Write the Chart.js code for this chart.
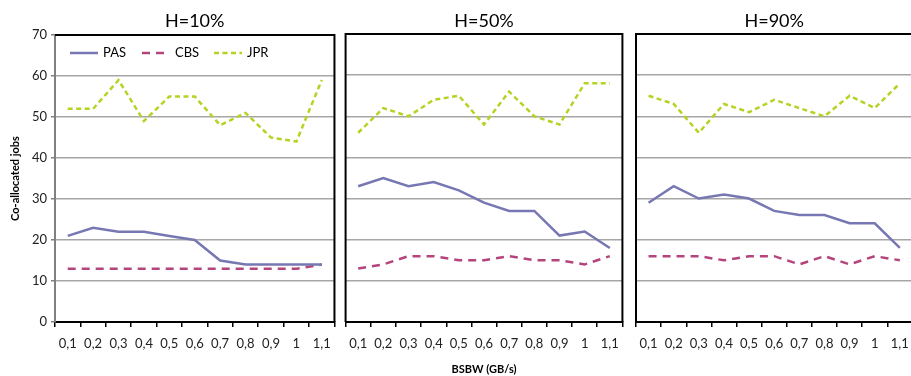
<!DOCTYPE html>
<html>
<head>
<meta charset="utf-8">
<script src="https://cdn.jsdelivr.net/npm/chart.js@4/dist/chart.umd.min.js"></script>
<style>
  body { margin: 0; background: #fff; overflow: hidden; width: 911px; height: 376px; position: relative; }
  canvas { position: absolute; top: 0; }
</style>
</head>
<body>
<canvas id="c10" width="340" height="376" style="left:0"></canvas>
<canvas id="c50" width="288" height="376" style="left:340px"></canvas>
<canvas id="c90" width="290" height="376" style="left:628px"></canvas>
<script>
// BSBW (GB/s) categories
var bsbw = ['0,1', '0,2', '0,3', '0,4', '0,5', '0,6', '0,7', '0,8', '0,9', '1', '1,1'];
var yTicks = [0, 10, 20, 30, 40, 50, 60, 70];

// H=10%
var pas10 = [21, 23, 22, 22, 21, 20, 15, 14, 14, 14, 14];
var cbs10 = [13, 13, 13, 13, 13, 13, 13, 13, 13, 13, 14];
var jpr10 = [52, 52, 59, 49, 55, 55, 48, 51, 45, 44, 59];

// H=50%
var pas50 = [33, 35, 33, 34, 32, 29, 27, 27, 21, 22, 18];
var cbs50 = [13, 14, 16, 16, 15, 15, 16, 15, 15, 14, 16];
var jpr50 = [46, 52, 50, 54, 55, 48, 56, 50, 48, 58, 58];

// H=90%
var pas90 = [29, 33, 30, 31, 30, 27, 26, 26, 24, 24, 18];
var cbs90 = [16, 16, 16, 15, 16, 16, 14, 16, 14, 16, 15];
var jpr90 = [55, 53, 46, 53, 51, 54, 52, 50, 55, 52, 58];

Chart.defaults.font.family = 'Lato, "Open Sans", sans-serif';
Chart.defaults.color = '#222';

// frame around plot area + panel title
var panelFrame = {
  id: 'panelFrame',
  afterDraw: function(chart, args, opts) {
    var ctx = chart.ctx, a = chart.chartArea;
    ctx.save();
    ctx.strokeStyle = '#000';
    ctx.lineWidth = 2;
    ctx.beginPath();
    if (opts.left) {
      ctx.moveTo(a.left, a.bottom);
      ctx.lineTo(a.left, a.top);
    } else {
      ctx.moveTo(a.left, a.top);
    }
    ctx.lineTo(a.right, a.top);
    ctx.lineTo(a.right, a.bottom);
    ctx.stroke();
    ctx.fillStyle = '#000';
    ctx.font = '18px Lato, "Open Sans", sans-serif';
    ctx.textAlign = 'center';
    ctx.textBaseline = 'alphabetic';
    ctx.fillText(opts.title, (a.left + a.right) / 2, 27);
    ctx.restore();
  }
};

// legend with line samples inside the plot
var lineLegend = {
  id: 'lineLegend',
  afterDraw: function(chart, args, opts) {
    if (!opts.show) return;
    var ctx = chart.ctx, a = chart.chartArea;
    ctx.save();
    ctx.font = '13px Lato, "Open Sans", sans-serif';
    ctx.textBaseline = 'middle';
    ctx.textAlign = 'left';
    chart.data.datasets.forEach(function(ds, i) {
      var x = a.left + 15 + i * 72, y = a.top + 18;
      ctx.strokeStyle = ds.borderColor;
      ctx.lineWidth = ds.borderWidth;
      ctx.setLineDash(ds.borderDash || []);
      ctx.beginPath();
      ctx.moveTo(x, y);
      ctx.lineTo(x + 28, y);
      ctx.stroke();
      ctx.setLineDash([]);
      ctx.fillStyle = '#000';
      ctx.fillText(ds.label, x + 33, y);
    });
    ctx.restore();
  }
};

function makePanel(id, title, pas, cbs, jpr, first, xTitle, pad) {
  var ctx = document.getElementById(id).getContext('2d');
  return new Chart(ctx, {
    type: 'line',
    data: {
      labels: bsbw,
      datasets: [
        { label: 'PAS', data: pas, borderColor: '#7777b3', borderWidth: 2.5, pointRadius: 0, tension: 0 },
        { label: 'CBS', data: cbs, borderColor: '#b4457c', borderWidth: 2.5, borderDash: [8, 6], pointRadius: 0, tension: 0 },
        { label: 'JPR', data: jpr, borderColor: '#b3d423', borderWidth: 2.5, borderDash: [5, 3.5], pointRadius: 0, tension: 0 }
      ]
    },
    options: {
      responsive: false,
      animation: false,
      layout: { padding: pad },
      plugins: {
        legend: { display: false },
        tooltip: { enabled: false },
        panelFrame: { title: title, left: !first },
        lineLegend: { show: first }
      },
      scales: {
        x: {
          offset: true,
          grid: { offset: true, drawOnChartArea: false, drawTicks: true, tickLength: 5, tickColor: '#000', lineWidth: 1.5 },
          border: { color: '#000', width: 2 },
          ticks: { color: '#222', font: { size: 13 }, padding: 9, maxRotation: 0, autoSkip: false },
          title: { display: !!xTitle, text: xTitle || '', color: '#000', font: { size: 11, weight: 'bold' }, padding: 0 },
          afterFit: function(s) { s.height = 54; }
        },
        y: {
          min: 0,
          max: 70,
          afterBuildTicks: function(s) { s.ticks = yTicks.map(function(v) { return { value: v }; }); },
          grid: {
            color: function(c) { return (c.tick.value === 0 || c.tick.value === 70) ? 'rgba(0,0,0,0)' : '#a6a6a6'; },
            lineWidth: 1.5,
            drawTicks: first,
            tickLength: 4,
            tickColor: '#808080'
          },
          border: { display: first, color: '#808080', width: 2 },
          ticks: { display: first, color: '#222', font: { size: 13 }, padding: 4 },
          title: { display: first, text: 'Co-allocated jobs', color: '#000', font: { size: 11, weight: 'bold' }, padding: { top: 9, bottom: 0 } },
          afterFit: function(s) { s.width = first ? 55 : 0; }
        }
      }
    },
    plugins: [panelFrame, lineLegend]
  });
}

makePanel('c10', 'H=10%', pas10, cbs10, jpr10, true, null, { top: 35, right: 5, bottom: 0, left: 0 });
makePanel('c50', 'H=50%', pas50, cbs50, jpr50, false, 'BSBW (GB/s)', { top: 34, right: 4, bottom: 0, left: 5 });
makePanel('c90', 'H=90%', pas90, cbs90, jpr90, false, null, { top: 34, right: 3, bottom: 0, left: 8 });
</script>
</body>
</html>
